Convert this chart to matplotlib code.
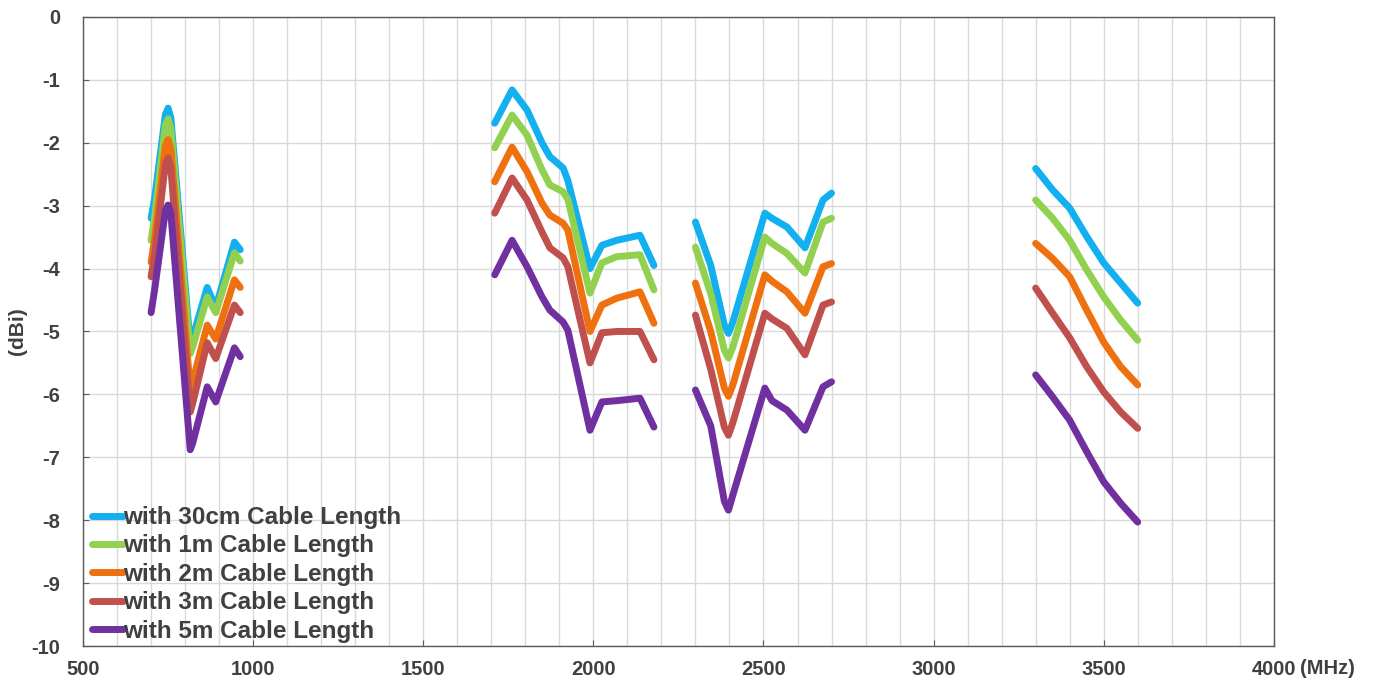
import matplotlib
matplotlib.use("Agg")
import matplotlib.pyplot as plt
from matplotlib.ticker import MultipleLocator

plt.rcParams["font.family"] = ["Liberation Sans", "DejaVu Sans"]
plt.rcParams["axes.unicode_minus"] = False

# ===== data (MHz, dBi) =====
labels = ["with 30cm Cable Length", "with 1m Cable Length", "with 2m Cable Length",
          "with 3m Cable Length", "with 5m Cable Length"]
colors = ["#12B0EE", "#92D050", "#EE700F", "#C0504D", "#7030A0"]

# band 1 (700-960 MHz)
f1 = [700, 710, 742, 750, 758, 815, 822, 865, 890, 945, 962]
g1_30cm = [-3.2, -2.9, -1.55, -1.45, -1.6, -5.2, -5.1, -4.3, -4.62, -3.58, -3.7]
g1_1m = [-3.55, -3.2, -1.72, -1.62, -1.78, -5.35, -5.25, -4.45, -4.7, -3.75, -3.88]
g1_2m = [-3.9, -3.55, -2.05, -1.95, -2.1, -5.93, -5.8, -4.9, -5.12, -4.18, -4.3]
g1_3m = [-4.13, -3.8, -2.34, -2.24, -2.4, -6.28, -6.15, -5.18, -5.43, -4.58, -4.7]
g1_5m = [-4.7, -4.35, -3.08, -2.99, -3.12, -6.88, -6.78, -5.88, -6.12, -5.26, -5.4]

# band 2 (1710-2180 MHz)
f2 = [1710, 1761, 1805, 1849, 1872, 1911, 1925, 1990, 2025, 2069, 2137, 2178]
g2_30cm = [-1.69, -1.16, -1.48, -2.0, -2.22, -2.4, -2.6, -4.0, -3.63, -3.55, -3.47, -3.95]
g2_1m = [-2.08, -1.56, -1.88, -2.43, -2.67, -2.78, -2.9, -4.39, -3.91, -3.81, -3.78, -4.34]
g2_2m = [-2.62, -2.07, -2.46, -2.96, -3.15, -3.28, -3.39, -5.0, -4.58, -4.47, -4.37, -4.87]
g2_3m = [-3.12, -2.56, -2.91, -3.42, -3.67, -3.83, -3.97, -5.5, -5.02, -5.0, -5.0, -5.45]
g2_5m = [-4.1, -3.55, -3.97, -4.45, -4.66, -4.85, -4.98, -6.57, -6.12, -6.1, -6.06, -6.52]

# band 3 (2300-2700 MHz)
f3 = [2300, 2345, 2385, 2397, 2410, 2504, 2525, 2569, 2622, 2675, 2700]
g3_30cm = [-3.26, -3.95, -4.9, -5.03, -4.85, -3.12, -3.2, -3.34, -3.67, -2.91, -2.8]
g3_1m = [-3.66, -4.4, -5.3, -5.42, -5.25, -3.5, -3.6, -3.76, -4.07, -3.26, -3.2]
g3_2m = [-4.23, -5.0, -5.9, -6.03, -5.85, -4.1, -4.2, -4.37, -4.71, -3.97, -3.92]
g3_3m = [-4.74, -5.6, -6.52, -6.65, -6.45, -4.71, -4.8, -4.95, -5.37, -4.58, -4.53]
g3_5m = [-5.93, -6.5, -7.7, -7.84, -7.6, -5.9, -6.1, -6.25, -6.57, -5.88, -5.8]

# band 4 (3300-3600 MHz)
f4 = [3300, 3350, 3400, 3450, 3500, 3550, 3600]
g4_30cm = [-2.41, -2.75, -3.04, -3.49, -3.91, -4.23, -4.55]
g4_1m = [-2.91, -3.2, -3.55, -4.02, -4.45, -4.82, -5.14]
g4_2m = [-3.6, -3.84, -4.13, -4.66, -5.17, -5.56, -5.85]
g4_3m = [-4.31, -4.71, -5.1, -5.56, -5.96, -6.28, -6.54]
g4_5m = [-5.69, -6.04, -6.41, -6.91, -7.39, -7.73, -8.03]

bands = [
    (f1, [g1_30cm, g1_1m, g1_2m, g1_3m, g1_5m]),
    (f2, [g2_30cm, g2_1m, g2_2m, g2_3m, g2_5m]),
    (f3, [g3_30cm, g3_1m, g3_2m, g3_3m, g3_5m]),
    (f4, [g4_30cm, g4_1m, g4_2m, g4_3m, g4_5m]),
]

x_ticks = [500, 1000, 1500, 2000, 2500, 3000, 3500, 4000]
y_ticks = [0, -1, -2, -3, -4, -5, -6, -7, -8, -9, -10]

TXT = "#404040"
GRID = "#D9D9D9"

# ===== plot =====
fig = plt.figure(figsize=(13.75, 6.86), dpi=100)
ax = fig.add_axes([0.0604, 0.0583, 0.866, 0.917])

for i, (lab, col) in enumerate(zip(labels, colors)):
    for b, (f, series) in enumerate(bands):
        ax.plot(f, series[i], color=col, lw=5, solid_joinstyle="round",
                solid_capstyle="round", label=lab if b == 0 else None, zorder=3 + i)

ax.set_xlim(500, 4000)
ax.set_ylim(-10, 0)
ax.set_xticks(x_ticks)
ax.set_yticks(y_ticks)
ax.xaxis.set_minor_locator(MultipleLocator(100))
ax.grid(True, which="both", axis="x", color=GRID, lw=1.0, zorder=0)
ax.grid(True, which="major", axis="y", color=GRID, lw=1.0, zorder=0)
ax.tick_params(which="major", direction="in", length=4, color="#595959",
               labelsize=14.5, labelcolor=TXT)
ax.tick_params(which="minor", length=0)
for lb in ax.get_xticklabels() + ax.get_yticklabels():
    lb.set_fontweight("bold")
ax.tick_params(axis="y", pad=16.5)
ax.tick_params(axis="x", pad=10)

for s in ax.spines.values():
    s.set_color("#595959")
    s.set_linewidth(1.0)

ax.set_ylabel("(dBi)", fontsize=15, fontweight="bold", color=TXT)
ax.yaxis.set_label_coords(-0.047, 0.5)
fig.text(1300 / 1375, 1 - 668 / 686, "(MHz)", ha="left", va="center",
         fontsize=14.5, fontweight="bold", color=TXT)

leg = ax.legend(loc="lower left", bbox_to_anchor=(0.0, -0.008), frameon=False,
                fontsize=17.5, handlelength=1.3, handletextpad=0.0,
                labelspacing=0.22, borderaxespad=0.1, borderpad=0.25)
for t in leg.get_texts():
    t.set_color(TXT)
    t.set_fontweight("bold")

fig.savefig("out.png", dpi=100)
